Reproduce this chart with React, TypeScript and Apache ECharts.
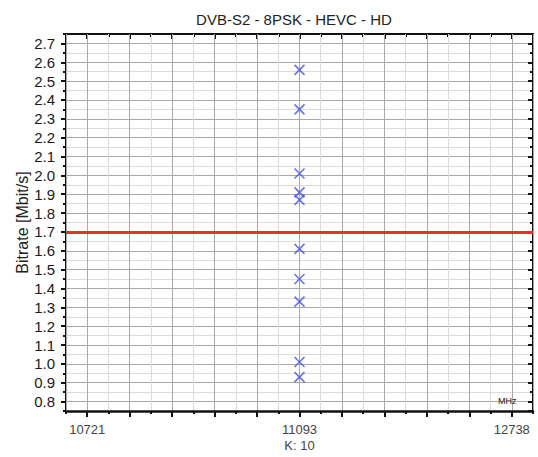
import React, { useEffect, useRef } from "react";
import * as echarts from "echarts";

const title = "DVB-S2 - 8PSK - HEVC - HD";
const yAxisName = "Bitrate [Mbit/s]";
const unitLabel = "MHz";

// x axis: transponder index K, with frequency labels at selected ticks
const xTickPositions = [5, 10, 15];
const xTickLabels = ["10721", "11093\nK: 10", "12738"];
const xMin = 4.5;
const xMax = 15.5;

const yMin = 0.75;
const yMax = 2.75;

// measured bitrates (all at K = 10)
const pointK = [10, 10, 10, 10, 10, 10, 10, 10, 10, 10];
const bitrates = [2.56, 2.35, 2.01, 1.91, 1.87, 1.61, 1.45, 1.33, 1.01, 0.93];

const thresholdValue = 1.7;

const FONT = "Liberation Sans, Arial, sans-serif";
const MAJOR = "#a8a8a8";
const MINOR = "#dcdcdc";
const BLUE = "#4455dd";

export default function App() {
  const ref = useRef<HTMLDivElement>(null);
  useEffect(() => {
    if (!ref.current) return;
    const chart = echarts.init(ref.current, null, { renderer: "svg" });
    const majorX = {
      type: "value",
      min: xMin,
      max: xMax,
      splitNumber: 11,
      axisLine: { show: false },
      axisLabel: { show: false },
      splitLine: { show: false },
    };
    const minorX = {
      type: "value",
      min: xMin,
      max: xMax,
      interval: 1,
      axisLine: { show: false },
      axisLabel: { show: false },
      splitLine: { show: false },
    };
    const majorY = {
      type: "value",
      min: yMin,
      max: yMax,
      splitNumber: 20,
      axisLine: { show: false },
      axisLabel: { show: false },
      splitLine: { show: false },
    };
    const minorY = {
      type: "value",
      min: yMin,
      max: yMax,
      interval: 0.1,
      axisLine: { show: false },
      axisLabel: { show: false },
      splitLine: { show: false },
    };
    const option: any = {
      animation: false,
      backgroundColor: "#ffffff",
      title: {
        text: title,
        left: 289,
        textAlign: "center",
        top: 7,
        textStyle: { fontFamily: FONT, fontSize: 15, fontWeight: "normal", color: "#222" },
      },
      grid: { left: 66, top: 34, right: 5, bottom: 46, containLabel: false },
      xAxis: [
        {
          ...majorX,
          position: "bottom",
          axisLine: { show: true, onZero: false, lineStyle: { color: "#111", width: 2.5 } },
          axisTick: { show: true, length: 6, lineStyle: { color: "#111", width: 2 } },
          axisLabel: {
            show: true,
            interval: 0,
            showMinLabel: false,
            showMaxLabel: false,
            margin: 10,
            fontFamily: FONT,
            fontSize: 13,
            color: "#444",
            lineHeight: 16,
            formatter: (v: number) => {
              const i = xTickPositions.indexOf(Math.round(v * 1000) / 1000);
              return i >= 0 ? xTickLabels[i] : "";
            },
          },
          splitLine: { show: true, lineStyle: { color: MAJOR, width: 1 } },
          z: 3,
        },
        {
          ...minorX,
          position: "bottom",
          axisTick: { show: true, length: 3, lineStyle: { color: "#111", width: 2 } },
          splitLine: { show: true, lineStyle: { color: MINOR, width: 1 } },
          z: 1,
        },
        {
          ...majorX,
          position: "top",
          axisLine: { show: true, onZero: false, lineStyle: { color: "#111", width: 2 } },
          axisTick: { show: true, inside: true, length: 5, lineStyle: { color: "#111", width: 2 } },
        },
        {
          ...minorX,
          position: "top",
          axisTick: { show: true, inside: true, length: 3, lineStyle: { color: "#111", width: 2 } },
        },
      ],
      yAxis: [
        {
          ...majorY,
          position: "left",
          name: yAxisName,
          nameLocation: "middle",
          nameRotate: 90,
          nameGap: 36,
          nameMoveOverlap: false,
          nameTextStyle: { fontFamily: FONT, fontSize: 16, color: "#222" },
          axisLine: { show: true, onZero: false, lineStyle: { color: "#111", width: 2 } },
          axisTick: { show: true, length: 5, lineStyle: { color: "#111", width: 2 } },
          axisLabel: {
            show: true,
            interval: 0,
            showMinLabel: false,
            showMaxLabel: false,
            margin: 11,
            fontFamily: FONT,
            fontSize: 15,
            color: "#1a1a1a",
            formatter: (v: number) => v.toFixed(1),
          },
          splitLine: { show: true, lineStyle: { color: MAJOR, width: 1 } },
        },
        {
          ...minorY,
          position: "left",
          axisTick: { show: true, length: 3, lineStyle: { color: "#111", width: 2 } },
          splitLine: { show: true, lineStyle: { color: MINOR, width: 1 } },
        },
        {
          ...majorY,
          position: "right",
          axisLine: { show: true, onZero: false, lineStyle: { color: "#111", width: 2 } },
          axisTick: { show: true, inside: true, length: 5, lineStyle: { color: "#111", width: 2 } },
        },
        {
          ...minorY,
          position: "right",
          axisTick: { show: true, inside: true, length: 3, lineStyle: { color: "#111", width: 2 } },
        },
      ],
      series: [
        {
          type: "scatter",
          xAxisIndex: 0,
          yAxisIndex: 0,
          data: pointK.map((k, i) => [k, bitrates[i]]),
          symbol: "path://M0,0L10,10M10,0L0,10",
          symbolSize: 10,
          itemStyle: { color: "none", borderColor: BLUE, borderWidth: 1.6 },
          z: 5,
          markLine: {
            silent: true,
            symbol: "none",
            label: { show: false },
            lineStyle: { color: "#e8302c", width: 3, type: "solid" },
            data: [{ yAxis: thresholdValue }],
            z: 4,
          },
        },
      ],
      graphic: [
        {
          type: "text",
          left: 498,
          top: 396,
          style: { text: unitLabel, fontFamily: FONT, fontSize: 9, fill: "#222" },
          z: 10,
        },
      ],
    };
    chart.setOption(option);
    return () => chart.dispose();
  }, []);
  return (
    <div
      ref={ref}
      style={{ position: "fixed", left: 0, top: 0, width: 538, height: 457 }}
    />
  );
}
